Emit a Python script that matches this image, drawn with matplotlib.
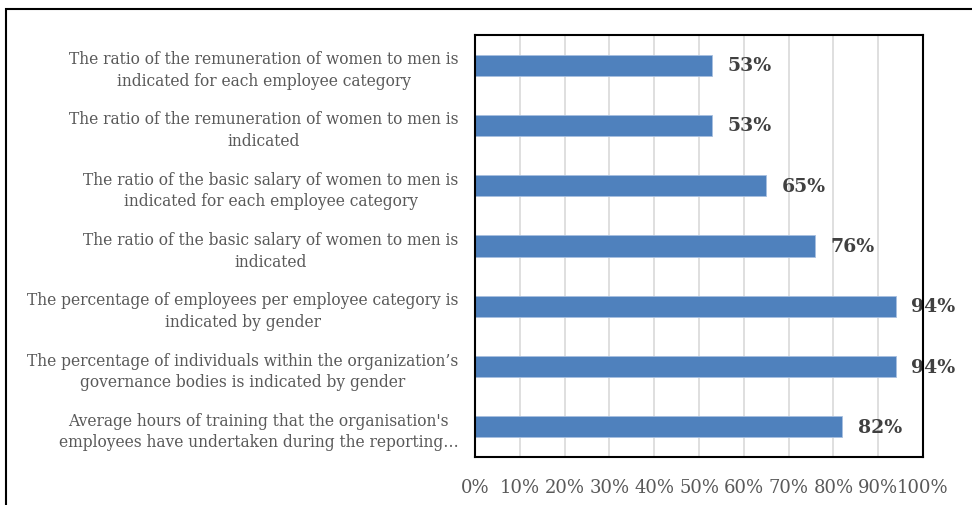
import matplotlib.pyplot as plt
from matplotlib.patches import Rectangle

# Categories, top to bottom as in the chart
categories = [
    "The ratio of the remuneration of women to men is\nindicated for each employee category",
    "The ratio of the remuneration of women to men is\nindicated",
    "The ratio of the basic salary of women to men is\nindicated for each employee category",
    "The ratio of the basic salary of women to men is\nindicated",
    "The percentage of employees per employee category is\nindicated by gender",
    "The percentage of individuals within the organization\u2019s\ngovernance bodies is indicated by gender",
    "Average hours of training that the organisation's\nemployees have undertaken during the reporting\u2026",
]
values = [53, 53, 65, 76, 94, 94, 82]
xticks = [0, 10, 20, 30, 40, 50, 60, 70, 80, 90, 100]
xtick_labels = [f"{t}%" for t in xticks]

plt.rcParams['font.family'] = ['DejaVu Serif']

fig = plt.figure(figsize=(9.72, 5.06), dpi=100)
ax = fig.add_axes([475 / 972, 1 - 458 / 506, 448 / 972, 422 / 506])

# outer frame (runs off the right and bottom of the image)
fig.patches.append(Rectangle((6 / 972, -0.1), 1.2, 1 - 10 / 506 + 0.1,
                             transform=fig.transFigure, fill=False,
                             edgecolor='black', linewidth=1.5))

y = list(range(len(categories)))[::-1]
ax.barh(y, values, height=0.35, color='#4f81bd', edgecolor='#a8c0e0', linewidth=0.6, zorder=3)

for yi, v in zip(y, values):
    ax.annotate(f"{v}%", (v, yi), xytext=(11, 0), textcoords='offset points',
                va='center', ha='left', fontsize=13.6, fontweight='bold',
                color='#404040', zorder=4, annotation_clip=False)

ax.set_xlim(0, 100)
ax.set_ylim(-0.5, len(categories) - 0.5)
ax.set_xticks(xticks)
ax.set_xticklabels(xtick_labels, fontsize=13, color='#595959')
ax.set_yticks(y)
ax.set_yticklabels(categories, fontsize=11.2, color='#595959',
                   multialignment='center', linespacing=1.35)
ax.tick_params(axis='x', length=0, pad=15)
ax.tick_params(axis='y', length=0, pad=12)
ax.grid(axis='x', color='#d9d9d9', linewidth=1.2, zorder=0)
for s in ax.spines.values():
    s.set_color('black')
    s.set_linewidth(1.5)
    s.set_zorder(5)

fig.savefig('out.png', dpi=100)
